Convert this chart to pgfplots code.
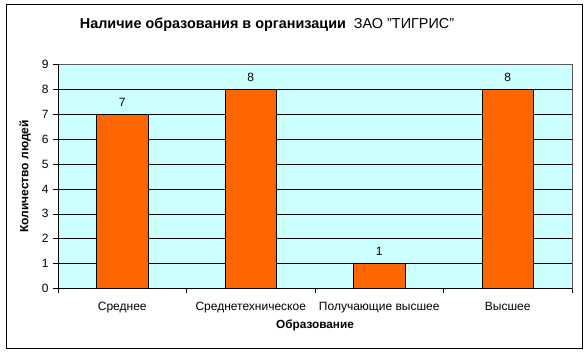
\documentclass[border=0pt]{standalone}
\usepackage{pgfplots}
\pgfplotsset{compat=1.18}
\usepackage{fontspec}
\setmainfont{Liberation Sans}
\definecolor{barorange}{HTML}{FF6600}
\definecolor{plotbg}{HTML}{CCFFFF}
\begin{document}
\begin{tikzpicture}[x=1pt,y=1pt]
\fill[white] (0,0) rectangle (584,353);
\draw[black,line width=1pt] (6,4) rectangle (582.5,348);
\begin{axis}[
  at={(58pt,64.5pt)}, anchor=south west,
  scale only axis, width=514pt, height=224pt,
  xmin=-0.5, xmax=3.5, ymin=0, ymax=9,
  axis background/.style={fill=plotbg},
  axis line style={gray!70!black, line width=0.6pt},
  ytick={0,...,8}, extra y ticks={9}, extra y tick style={grid=none},
  ymajorgrids, major grid style={black, line width=0.6pt},
  xtick={0,1,2,3},
  xticklabels={Среднее, Среднетехническое, Получающие высшее, Высшее},
  major x tick style={draw=none},
  minor xtick={-0.5,0.5,1.5,2.5,3.5},
  minor tick length=5pt, major tick length=5pt,
  tick align=outside, tick pos=left,
  tick style={black, line width=0.6pt},
  x tick label style={yshift=-5pt},
  y tick label style={xshift=-1pt},
  tick label style={font=\fontsize{12}{14}\selectfont},
  /pgf/number format/assume math mode=true,
  ybar, bar width=51.5pt,
  nodes near coords,
  every node near coord/.append style={font=\fontsize{12}{14}\selectfont, yshift=4pt},
  clip=false,
]
\addplot[fill=barorange, draw=black, line width=0.6pt] coordinates {(0,7) (1,8) (2,1) (3,8)};
\draw[black, line width=0.7pt] (axis cs:-0.5,0) -- (axis cs:3.5,0);
\draw[black, line width=0.7pt] (axis cs:-0.5,0) -- (axis cs:-0.5,9);
\end{axis}
\node[font=\fontsize{14.4}{17}\selectfont] at (267,328) {\textbf{Наличие образования в организации} \ ЗАО "ТИГРИС"};
\node[font=\bfseries\fontsize{12}{14}\selectfont, rotate=90] at (25,176.5) {Количество людей};
\node[font=\bfseries\fontsize{11.8}{14}\selectfont] at (315,28) {Образование};
\end{tikzpicture}
\end{document}
